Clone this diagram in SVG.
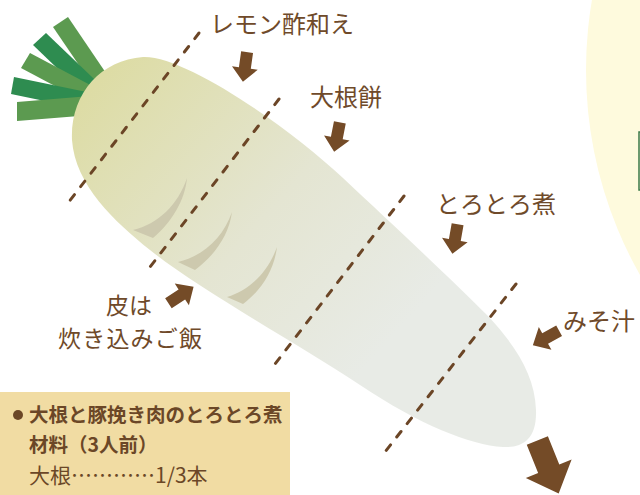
<svg xmlns="http://www.w3.org/2000/svg" width="640" height="495" viewBox="0 0 640 495">
  <style>
    .label { font-family: "Noto Sans CJK JP", "Noto Sans", sans-serif; font-size: 24px; fill: #6f4a2a; }
    .label-sm { font-size: 23px; }
    .box-text { font-family: "Noto Sans CJK JP", "Noto Sans", sans-serif; fill: #6b4727; }
    .bold { font-weight: 700; font-size: 19.5px; }
    .regular { font-weight: 400; font-size: 21px; }
    .cut { fill: none; stroke: #6b4526; stroke-width: 3; stroke-dasharray: 7 10; stroke-linecap: round; }
    .arrow { fill: #744b27; }
    .leaf-light { fill: #5c9a50; }
    .leaf-dark { fill: #2e8c50; }
    .skin-shadow { fill: #cdc9ae; }
  </style>
  <defs>
    <linearGradient id="bodyFill" gradientUnits="userSpaceOnUse" x1="100" y1="80" x2="390" y2="340">
      <stop offset="0" stop-color="#dddca5"/>
      <stop offset="0.55" stop-color="#e4e5d2"/>
      <stop offset="1" stop-color="#e8ebe6"/>
    </linearGradient>
    <path id="arrow" d="M-6,-15 H6 V1 H13 L0,15 L-13,1 H-6 Z"/>
  </defs>

  <rect width="640" height="495" fill="#ffffff"/>

  <!-- pale panel at the right edge -->
  <g id="side-panel">
    <circle cx="1002" cy="70" r="416" fill="#fefadd"/>
    <rect x="639" y="132" width="10" height="58" fill="none" stroke="#3c7a4a" stroke-width="1.5"/>
  </g>

  <!-- daikon leaves -->
  <g id="leaves">
    <polygon class="leaf-light" points="53,27 68,17 113.4,83.9 98.6,94.1"/>
    <polygon class="leaf-dark" points="33,45 46,33 106.1,90.6 93.9,103.4"/>
    <polygon class="leaf-light" points="21,68 30,53 102.1,91.3 93.9,106.7"/>
    <polygon class="leaf-dark" points="11,94 14,77 98.7,94.5 95.3,111.5"/>
    <polygon class="leaf-light" points="17,121 17,102 96.2,95.5 97.8,114.5"/>
  </g>

  <!-- daikon root -->
  <g id="radish">
    <path fill="url(#bodyFill)" d="M143,57 C185,55 290,128 343,178 C390,222 450,278 488,316 C515,345 535,375 536,410 C537,440 522,448 503,447 C470,445 420,425 360,385 C300,345 200,290 150,250 C115,222 75,185 72,140 C70,95 100,60 143,57 Z"/>
    <path class="skin-shadow" d="M187,178 C178,205 158,224 133,230 L153,238 C172,222 185,200 187,178 Z"/>
    <path class="skin-shadow" d="M232,212 C223,238 203,256 178,262 L195,270 C215,255 229,235 232,212 Z"/>
    <path class="skin-shadow" d="M277,247 C268,272 250,290 227,297 L243,304 C262,290 274,270 277,247 Z"/>
  </g>

  <!-- cutting lines -->
  <g id="cut-lines">
    <line class="cut" x1="199" y1="33" x2="68" y2="203"/>
    <line class="cut" x1="279" y1="99" x2="150" y2="267"/>
    <line class="cut" x1="404" y1="196" x2="275" y2="364"/>
    <line class="cut" x1="516" y1="284" x2="385" y2="452"/>
  </g>

  <!-- usage labels -->
  <g id="label-lemon">
    <text class="label" x="210" y="33">レモン酢和え</text>
    <use href="#arrow" class="arrow" transform="translate(245,67) rotate(8)"/>
  </g>
  <g id="label-mochi">
    <text class="label" x="310" y="106">大根餅</text>
    <use href="#arrow" class="arrow" transform="translate(337,137) rotate(11)"/>
  </g>
  <g id="label-nimono">
    <text class="label" x="436" y="213">とろとろ煮</text>
    <use href="#arrow" class="arrow" transform="translate(455,239) rotate(10)"/>
  </g>
  <g id="label-miso">
    <text class="label" x="563" y="330">みそ汁</text>
    <use href="#arrow" class="arrow" transform="translate(546,338) rotate(61)"/>
  </g>
  <g id="label-skin">
    <text class="label label-sm" x="129" y="314" text-anchor="middle">皮は</text>
    <text class="label label-sm" x="130" y="347" text-anchor="middle" textLength="144">炊き込みご飯</text>
    <use href="#arrow" class="arrow" transform="translate(181,295) rotate(-123)"/>
  </g>
  <g id="label-tip">
    <use href="#arrow" class="arrow" transform="translate(548,467) rotate(-22) scale(1.9)"/>
  </g>

  <!-- recipe box -->
  <g id="recipe-box">
    <rect x="0" y="392" width="290" height="110" fill="#f1dca3"/>
    <circle cx="18" cy="415" r="5" fill="#6b4727"/>
    <text class="box-text bold" x="29" y="422">大根と豚挽き肉のとろとろ煮</text>
    <text class="box-text bold" x="29" y="452">材料（3人前）</text>
    <text class="box-text regular" x="29" y="483">大根…………1/3本</text>
  </g>
</svg>
